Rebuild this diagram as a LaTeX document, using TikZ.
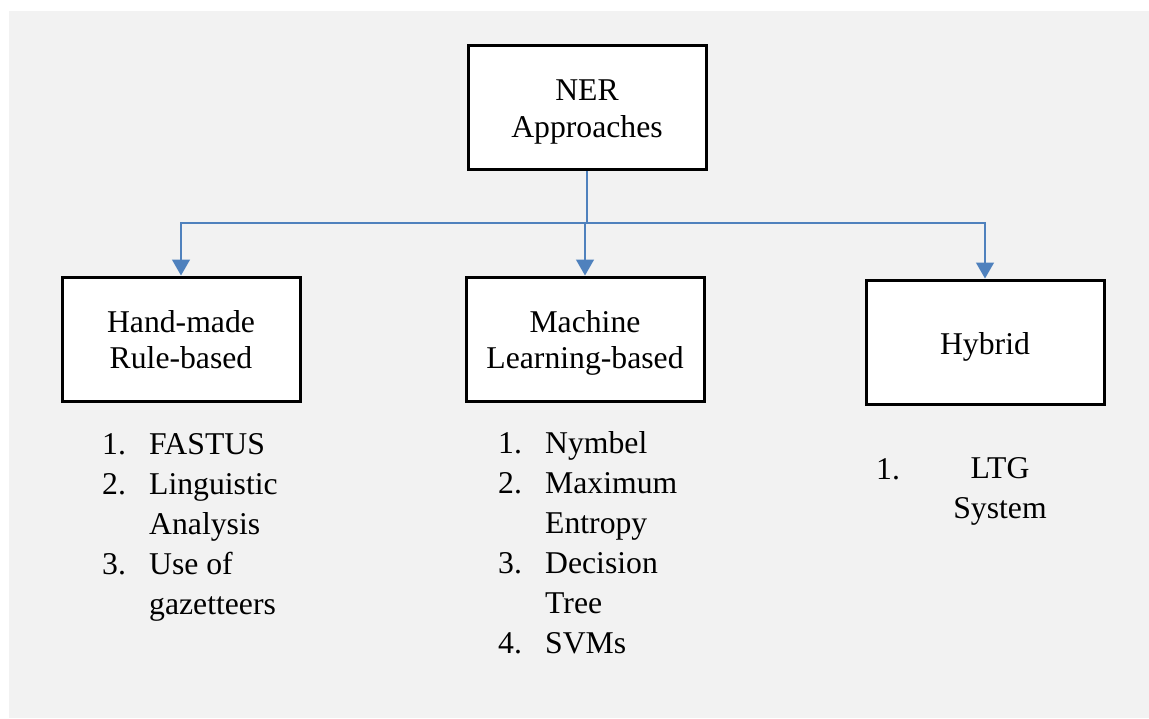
\documentclass[tikz,border=0pt]{standalone}
\usepackage{fontspec}
\setmainfont{Liberation Serif}
\usetikzlibrary{arrows.meta}

\definecolor{canvas}{HTML}{F2F2F2}
\definecolor{linkblue}{HTML}{4F81BD}

\newcommand{\itemno}[1]{\makebox[47pt][l]{#1}}

\tikzset{
    approach/.style={draw=black, line width=3pt, fill=white, align=center,
        minimum width=238pt, minimum height=124pt, inner sep=0pt,
        font=\fontsize{31.7}{36.5}\selectfont, text depth=4.5pt},
    oneline/.style={approach, text height=28.5pt},
    twoline/.style={approach, text height=64pt},
    listing/.style={align=left, inner sep=0pt, anchor=north west,
        font=\fontsize{31.7}{40}\selectfont},
    link/.style={draw=linkblue, line width=1.4pt},
    arrowlink/.style={link, -{Triangle[width=18pt,length=16pt]}}
}

\begin{document}
\begin{tikzpicture}[x=1pt, y=-1pt]

% canvas, in pixel coordinates of the page
\useasboundingbox (0,0) rectangle (1149,718);
\fill[canvas] (9,11) rectangle (1149,718);

% the four boxes
\node[twoline] (ner)    at (587,107.5) {NER\\Approaches};
\node[twoline] (rule)   at (181,339)   {Hand-made\\Rule-based};
\node[twoline] (ml)     at (585,339)   {Machine\\Learning-based};
\node[oneline] (hybrid) at (985,342)   {Hybrid};

% connectors
\coordinate (split) at (587,223);
\draw[link] (ner.south) -- (split);
\foreach \target in {rule,ml,hybrid}
    \draw[arrowlink] (split) -| (\target.north);

% lists below the boxes
\node[listing] (rulelist) at (102,433) {\itemno{1.}FASTUS\\
    \itemno{2.}Linguistic\\ \itemno{}Analysis\\
    \itemno{3.}Use of\\ \itemno{}gazetteers};
\node[listing] (mllist) at (498,431) {\itemno{1.}Nymbel\\
    \itemno{2.}Maximum\\ \itemno{}Entropy\\
    \itemno{3.}Decision\\ \itemno{}Tree\\
    \itemno{4.}SVMs};
\node[listing] (hybridno) at (876,458) {1.};
\node[listing, anchor=north, align=center] (hybridlist) at (1000,457) {LTG\\System};

\end{tikzpicture}
\end{document}
